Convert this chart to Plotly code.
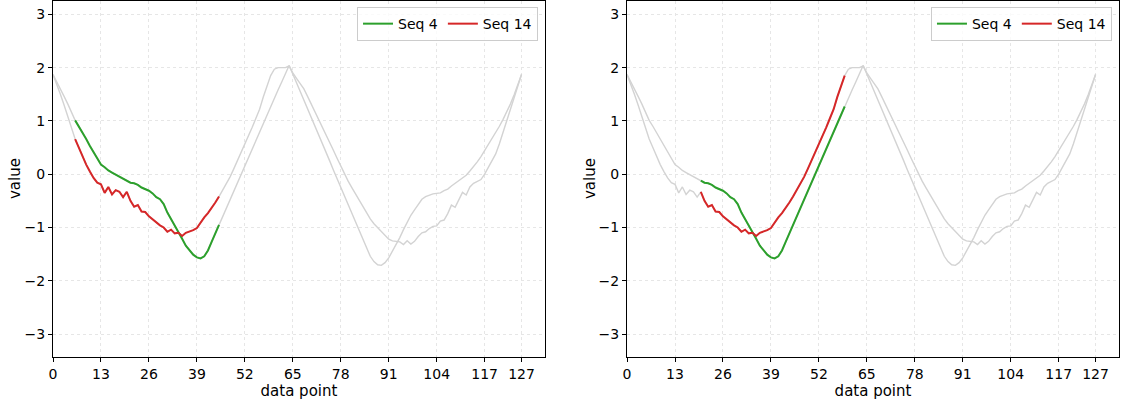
import plotly.graph_objects as go
from plotly.subplots import make_subplots

seq4 = [1.87,1.74,1.60,1.46,1.32,1.17,1.01,0.90,0.78,0.66,0.53,0.41,0.30,0.18,0.13,0.07,0.03,-0.01,-0.05,-0.08,
        -0.12,-0.16,-0.17,-0.20,-0.25,-0.28,-0.31,-0.36,-0.43,-0.47,-0.56,-0.72,-0.84,-0.95,-1.08,-1.21,-1.34,-1.43,-1.51,-1.56,
        -1.58,-1.54,-1.43,-1.27,-1.11,-0.95,-0.79,-0.63,-0.47,-0.31,-0.15,0.01,0.17,0.33,0.49,0.64,0.80,0.96,1.12,1.27,
        1.43,1.58,1.73,1.89,2.04,1.88,1.72,1.55,1.39,1.23,1.06,0.90,0.74,0.57,0.41,0.25,0.08,-0.08,-0.24,-0.41,
        -0.57,-0.73,-0.90,-1.06,-1.22,-1.39,-1.54,-1.64,-1.70,-1.71,-1.66,-1.57,-1.45,-1.33,-1.19,-1.04,-0.89,-0.77,-0.67,-0.56,
        -0.47,-0.42,-0.39,-0.37,-0.36,-0.35,-0.31,-0.28,-0.22,-0.17,-0.12,-0.08,-0.02,0.06,0.14,0.23,0.33,0.44,0.55,0.66,
        0.78,0.90,1.03,1.17,1.32,1.49,1.67,1.87]

seq14 = [1.87,1.70,1.50,1.30,1.08,0.87,0.66,0.50,0.33,0.18,0.05,-0.07,-0.16,-0.19,-0.35,-0.24,-0.38,-0.30,-0.33,-0.43,
         -0.33,-0.50,-0.61,-0.58,-0.70,-0.71,-0.79,-0.85,-0.91,-0.96,-1.00,-1.08,-1.04,-1.11,-1.10,-1.16,-1.10,-1.08,-1.05,-1.01,
         -0.90,-0.81,-0.73,-0.64,-0.53,-0.42,-0.30,-0.17,-0.05,0.10,0.25,0.42,0.58,0.72,0.88,1.05,1.22,1.45,1.65,1.85,
         1.97,2.00,2.00,2.00,2.03,1.90,1.80,1.70,1.60,1.46,1.32,1.18,1.04,0.90,0.75,0.60,0.45,0.30,0.15,0.00,
         -0.13,-0.25,-0.37,-0.50,-0.62,-0.74,-0.84,-0.93,-1.00,-1.08,-1.15,-1.22,-1.25,-1.26,-1.27,-1.32,-1.25,-1.31,-1.26,-1.17,
         -1.10,-1.08,-1.02,-0.98,-0.97,-0.88,-0.86,-0.74,-0.58,-0.62,-0.48,-0.34,-0.39,-0.24,-0.17,-0.13,-0.10,0.00,0.13,0.24,
         0.38,0.57,0.78,1.00,1.22,1.44,1.66,1.87]

windows = [(6, 45), (20, 59)]
series_names = ["Seq 4", "Seq 14"]
series_colors = ["#2ca02c", "#d62728"]
x_ticks = [0, 13, 26, 39, 52, 65, 78, 91, 104, 117, 127]
y_ticks = [-3, -2, -1, 0, 1, 2, 3]

x_all = list(range(len(seq4)))

fig = make_subplots(rows=1, cols=2, horizontal_spacing=0.077)

for col, (a, b) in enumerate(windows, start=1):
    legend_name = "legend" if col == 1 else "legend2"
    for s in (seq4, seq14):
        fig.add_trace(go.Scatter(x=x_all, y=s, mode="lines",
                                 line=dict(color="#d3d3d3", width=1.4),
                                 showlegend=False, hoverinfo="skip"), row=1, col=col)
    for s, name, color in zip((seq4, seq14), series_names, series_colors):
        xs = list(range(a, b + 1))
        fig.add_trace(go.Scatter(x=xs, y=s[a:b + 1], mode="lines", name=name,
                                 line=dict(color=color, width=2),
                                 legend=legend_name), row=1, col=col)

axis_common = dict(showline=True, linecolor="black", linewidth=1, mirror=True,
                   ticks="outside", ticklen=4, tickwidth=1, tickcolor="black",
                   showgrid=True, gridcolor="#e6e6e6", griddash="dot", gridwidth=1,
                   zeroline=False, automargin=False,
                   tickfont=dict(size=14, color="black"))

for col in (1, 2):
    fig.update_xaxes(range=[0, 133.35], tickvals=x_ticks,
                     title=dict(text="data point", font=dict(size=15, color="black"), standoff=2),
                     row=1, col=col, **axis_common)
    fig.update_yaxes(range=[-3.43, 3.25], tickvals=y_ticks,
                     row=1, col=col, **axis_common)

for xp in (-0.0356, 0.5038):
    fig.add_annotation(text="value", textangle=-90, xref="paper", yref="paper",
                       x=xp, y=0.5, xanchor="center", yanchor="middle", showarrow=False,
                       font=dict(size=15, color="black"))

leg_common = dict(orientation="h", xanchor="right", yanchor="top", y=0.983,
                  bgcolor="rgba(255,255,255,0.8)", bordercolor="#cccccc", borderwidth=1,
                  font=dict(size=14, color="black"))
fig.update_layout(
    width=1126, height=403,
    margin=dict(l=53, r=7, t=1, b=46),
    plot_bgcolor="white", paper_bgcolor="white",
    font=dict(family="DejaVu Sans", size=14, color="black"),
    legend=dict(x=0.455, **leg_common),
    legend2=dict(x=0.9934, **leg_common),
)

fig.write_html("out.html",
               config={"displayModeBar": False},
               post_script="document.body.style.margin='0';document.body.style.overflow='hidden';")
